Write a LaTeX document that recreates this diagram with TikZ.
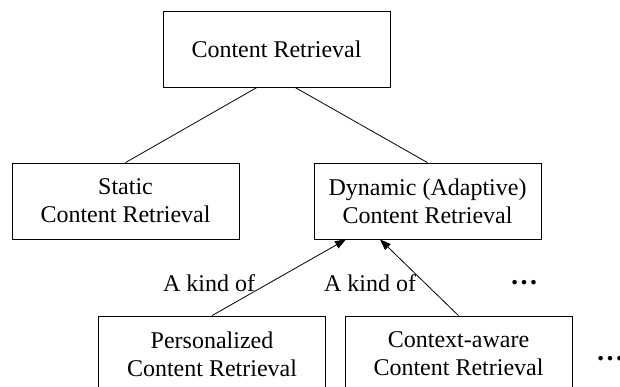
\documentclass[tikz,border=0pt]{standalone}
\usepackage{fontspec}
\setmainfont{Liberation Serif}
\usetikzlibrary{arrows.meta}
\begin{document}
\begin{tikzpicture}[x=1pt, y=-1pt, line width=0.8pt, >={Triangle[length=11pt,width=8pt]},
  main node/.style={rectangle,draw,align=center,minimum width=227pt,minimum height=76pt,inner sep=0pt},
  kind label/.style={inner sep=0pt},
  more dots/.style={inner sep=0pt,font=\fontsize{28}{28}\selectfont\bfseries}]
\useasboundingbox (0,0) rectangle (620,387);
\clip (0,0) rectangle (620,387);
\begin{scope}[every node/.style={font=\fontsize{24}{28}\selectfont}]
\node [main node](cr) at (276.5,49) {Content Retrieval};
\node [main node](static) at (125.5,201) {Static\\Content Retrieval};
\node [main node](dynamic) at (427.5,201) {Dynamic (Adaptive)\\Content Retrieval};
\node [main node](pers) at (212,354) {Personalized\\Content Retrieval};
\node [main node](ctx) at (458.5,354) {Context-aware\\Content Retrieval};
\node [kind label](k1) at (209,283) {A kind of};
\node [kind label](k2) at (370,283) {A kind of};
\node [more dots](d1) at (524,283) {…};
\node [more dots](d2) at (610,359) {…};
\end{scope}
\path 
	([xshift=-19.5pt]cr.south) edge (static.north)
    ([xshift=18.5pt]cr.south) edge (dynamic.north)
         ;
\path [->]
	(pers.north) edge ([xshift=-81.5pt]dynamic.south)
    (ctx.north) edge ([xshift=-47.5pt]dynamic.south)
         ;
\end{tikzpicture}
\end{document}
